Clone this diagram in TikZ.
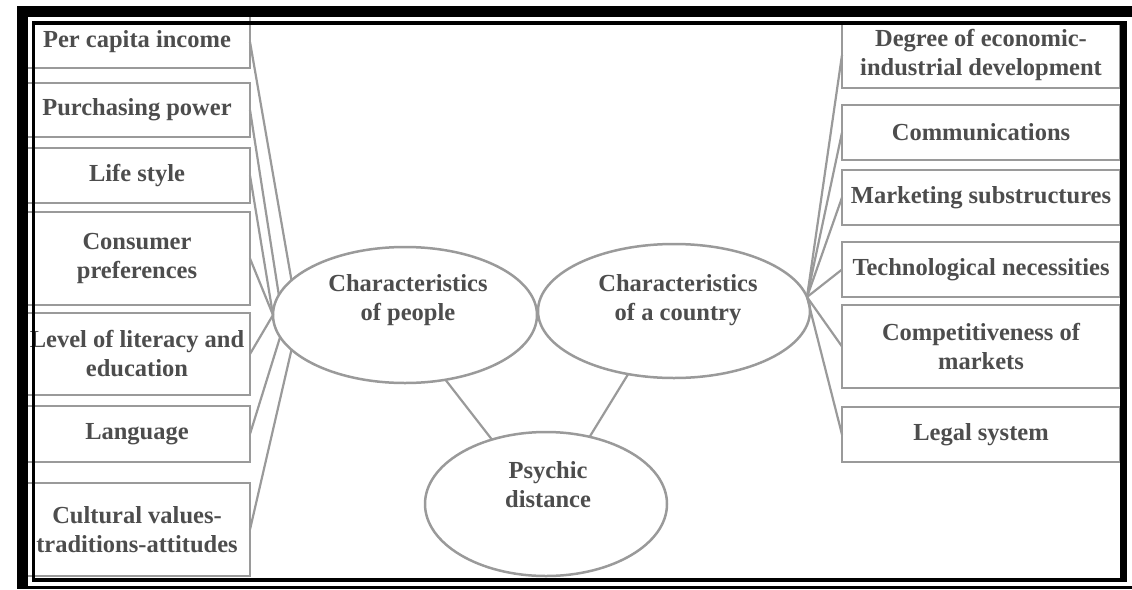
\documentclass[tikz,border=0pt]{standalone}
\usepackage{fontspec}
\setmainfont{Liberation Serif}
\usetikzlibrary{shapes.geometric,positioning}
\definecolor{boxgray}{HTML}{9A9A9A}
\definecolor{txtgray}{HTML}{4D4D4D}

\begin{document}
\begin{tikzpicture}[x=1pt,y=-1pt,
  factor/.style={rectangle,draw=boxgray,line width=2.5pt,inner sep=0pt,outer sep=0pt,
    text=txtgray,font=\fontsize{24.5}{29}\selectfont\bfseries,align=center},
  leftbox/.style={factor,minimum width=226pt},
  rightbox/.style={factor,minimum width=278pt},
  oval/.style={ellipse,draw=boxgray,line width=2.5pt,inner sep=0pt,outer sep=0pt},
  ovaltext/.style={text=txtgray,font=\fontsize{24.5}{29}\selectfont\bfseries,align=center},
  link/.style={draw=boxgray,line width=2.2pt}]
\useasboundingbox (0,0) rectangle (1132,589);
%% left column
\node[leftbox,minimum height=52pt] (income) at (137,42) {Per capita income};%%
\node[leftbox,minimum height=54pt] (power) at (137,110) {Purchasing power};%%
\node[leftbox,minimum height=55pt] (life) at (137,175.5) {Life style};%%
\node[leftbox,minimum height=93pt] (prefs) at (137,258.5) {Consumer\\preferences};%%
\node[leftbox,minimum height=82pt] (literacy) at (137,354) {Level of literacy and\\education};%%
\node[leftbox,minimum height=56pt] (language) at (137,434) {Language};%%
\node[leftbox,minimum height=93pt] (culture) at (137,529.5) {Cultural values-\\traditions-attitudes};%%
%% right column
\node[rightbox,minimum height=66pt] (degree) at (981,55) {Degree of economic-\\industrial development};%%
\node[rightbox,minimum height=55pt] (comms) at (981,132.5) {Communications};%%
\node[rightbox,minimum height=55pt] (marketing) at (981,197.5) {Marketing substructures};%%
\node[rightbox,minimum height=55pt] (tech) at (981,269.5) {Technological necessities};%%
\node[rightbox,minimum height=83pt] (compet) at (981,346.5) {Competitiveness of\\markets};%%
\node[rightbox,minimum height=55pt] (legal) at (981,434.5) {Legal system};%%
%% ellipses
\node[oval,minimum width=264pt,minimum height=136pt] (people) at (405,315) {};%%
\node[ovaltext] (peopletext) at (408,300) {Characteristics\\of people};%%
\node[oval,minimum width=272pt,minimum height=134pt] (country) at (674,311) {};%%
\node[ovaltext] (countrytext) at (678,300) {Characteristics\\of a country};%%
\node[oval,minimum width=242pt,minimum height=144pt] (psychic) at (546,504) {};%%
\node[ovaltext] (psychictext) at (548,485) {Psychic\\distance};%%
%% connectors
\draw[link] (income.east) -- (people.163);%%
\draw[link] (power.east) -- (people.171);%%
\draw[link] (life.east) -- (people.180);%%
\draw[link] (prefs.east) -- (people.180);%%
\draw[link] (literacy.east) -- (people.180);%%
\draw[link] (language.east) -- (people.190);%%
\draw[link] (culture.east) -- (people.197);%%
\foreach \b in {degree,comms,marketing,tech,compet,legal}
  \draw[link] (country.6) -- (\b.west);%%
\draw[link] (people.-58) -- (psychic.130);%%
\draw[link] (country.-126) -- (psychic.57);%%
%% frame
\fill (17,6) rectangle (1132,17);%%
\fill (17,6) rectangle (28,589);%%
\draw[line width=3pt] (17,587) -- (1132,587);%%
\draw[line width=3.5pt] (33.5,23) rectangle (1123,580);%%
\fill (1120,21) rectangle (1127,582);%%
\end{tikzpicture}
\end{document}
